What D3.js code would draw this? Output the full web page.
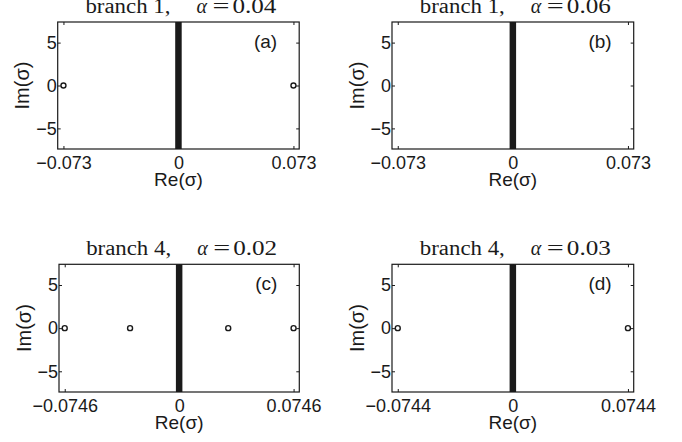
<!DOCTYPE html>
<html>
  <head>
    <meta charset="utf-8">
    <title>branch spectra</title>
    <script src="https://d3js.org/d3.v7.min.js"></script>
    <style>
      body { margin: 0; background: #fff; }
    </style>
  </head>
  <body>
    <div id="graph"></div>
  </body>

  <script>
    // panel titles and labels
    const branches = [1, 1, 4, 4];
    const alphas = ["0.04", "0.06", "0.02", "0.03"];
    const panel_tags = ["(a)", "(b)", "(c)", "(d)"];

    // x tick value (symmetric) for each panel, y ticks shared
    const x_tick_max = [0.073, 0.073, 0.0746, 0.0744];
    const y_ticks = [-5, 0, 5];
    const y_limit = 7.4;

    // isolated eigenvalues (real parts, all with Im = 0)
    const eig_a = [-0.073, 0.073];
    const eig_b = [];
    const eig_c = [-0.0746, -0.032, 0.032, 0.0746];
    const eig_d = [-0.0744, 0.0744];
    const eigen_re = [eig_a, eig_b, eig_c, eig_d];

    // continuous spectrum on the imaginary axis: Im range
    const cont_im = [-7.4, 7.4];

    const width = 682, height = 442;
    // box of each panel
    const boxes = [
      {left: 57.7, top: 22, w: 241.5, h: 127},
      {left: 392, top: 22, w: 241.7, h: 127},
      {left: 59, top: 264.3, w: 240.3, h: 127.7},
      {left: 392, top: 264.3, w: 241.7, h: 127.7}
    ];
    const ink = "#1a1a1a";
    const sans = "Liberation Sans, Arial, sans-serif";

    let svg = d3.select("#graph").append("svg")
      .attr("width", width)
      .attr("height", height);

    const fmt = d => d === 0 ? "0" : (d < 0 ? "\u2212" : "") + Math.abs(d);

    boxes.forEach(function(b, i) {
      const xm = x_tick_max[i];
      let x = d3.scaleLinear().domain([-xm * 1.05, xm * 1.05]).range([b.left, b.left + b.w]);
      let y = d3.scaleLinear().domain([-y_limit, y_limit]).range([b.top + b.h, b.top]);
      const cx = b.left + b.w / 2, cy = b.top + b.h / 2;
      let g = svg.append("g");

      // continuous spectrum band
      g.append("line")
        .attr("x1", x(0)).attr("x2", x(0))
        .attr("y1", y(cont_im[0])).attr("y2", y(cont_im[1]))
        .attr("stroke", ink)
        .attr("stroke-width", 6.5);

      // axes with inward ticks
      const xt = [-xm, 0, xm];
      g.append("g")
        .attr("transform", `translate(0, ${b.top + b.h})`)
        .call(d3.axisBottom(x).tickValues(xt).tickSize(-3).tickPadding(7).tickFormat(fmt));
      g.append("g")
        .attr("transform", `translate(0, ${b.top})`)
        .call(d3.axisTop(x).tickValues(xt).tickSize(-3).tickFormat(""));
      g.append("g")
        .attr("transform", `translate(${b.left}, 0)`)
        .call(d3.axisLeft(y).tickValues(y_ticks).tickSize(-3).tickPadding(1).tickFormat(fmt));
      g.append("g")
        .attr("transform", `translate(${b.left + b.w}, 0)`)
        .call(d3.axisRight(y).tickValues(y_ticks).tickSize(-3).tickFormat(""));
      g.selectAll(".domain").remove();
      g.selectAll(".tick line").attr("stroke", ink);
      g.selectAll(".tick text")
        .attr("fill", ink)
        .style("font-family", sans)
        .style("font-size", "18px");

      // box
      g.append("rect")
        .attr("x", b.left).attr("y", b.top)
        .attr("width", b.w).attr("height", b.h)
        .attr("fill", "none")
        .attr("stroke", ink)
        .attr("stroke-width", 1.2);

      // eigenvalue markers
      g.selectAll("circle.eig")
        .data(eigen_re[i])
        .enter()
        .append("circle")
        .attr("class", "eig")
        .attr("cx", d => x(d))
        .attr("cy", y(0))
        .attr("r", 2.5)
        .attr("fill", "#fff")
        .attr("stroke", ink)
        .attr("stroke-width", 1.4);

      // panel tag
      g.append("text")
        .attr("x", b.left + b.w - 22)
        .attr("y", b.top + 26)
        .attr("text-anchor", "end")
        .style("font-family", sans)
        .style("font-size", "19px")
        .attr("fill", ink)
        .text(panel_tags[i]);

      // axis labels
      g.append("text")
        .attr("x", cx)
        .attr("y", b.top + b.h + 37)
        .attr("text-anchor", "middle")
        .style("font-family", sans)
        .style("font-size", "19px")
        .attr("fill", ink)
        .text("Re(\u03c3)");
      g.append("text")
        .attr("transform", `translate(${b.left - 28.5}, ${cy}) rotate(-90)`)
        .attr("text-anchor", "middle")
        .style("font-family", sans)
        .style("font-size", "20px")
        .attr("fill", ink)
        .text("Im(\u03c3)");

      // title
      const ty = b.top - 9.5;
      g.append("text")
        .attr("x", cx - 8)
        .attr("y", ty)
        .attr("text-anchor", "end")
        .attr("textLength", 85)
        .attr("lengthAdjust", "spacingAndGlyphs")
        .style("font-family", "Liberation Serif, serif")
        .style("font-size", "20px")
        .attr("fill", ink)
        .text("branch " + branches[i] + ",");
      let t2 = g.append("text")
        .attr("y", ty)
        .style("font-family", "Liberation Serif, serif")
        .style("font-size", "20px")
        .attr("fill", ink);
      t2.append("tspan").attr("x", cx + 18).style("font-style", "italic").text("\u03b1");
      t2.append("tspan").attr("x", cx + 34).attr("textLength", 17)
        .attr("lengthAdjust", "spacingAndGlyphs").text("=");
      t2.append("tspan").attr("x", cx + 54).attr("textLength", 44)
        .attr("lengthAdjust", "spacingAndGlyphs").text(alphas[i]);
    });
  </script>
</html>
